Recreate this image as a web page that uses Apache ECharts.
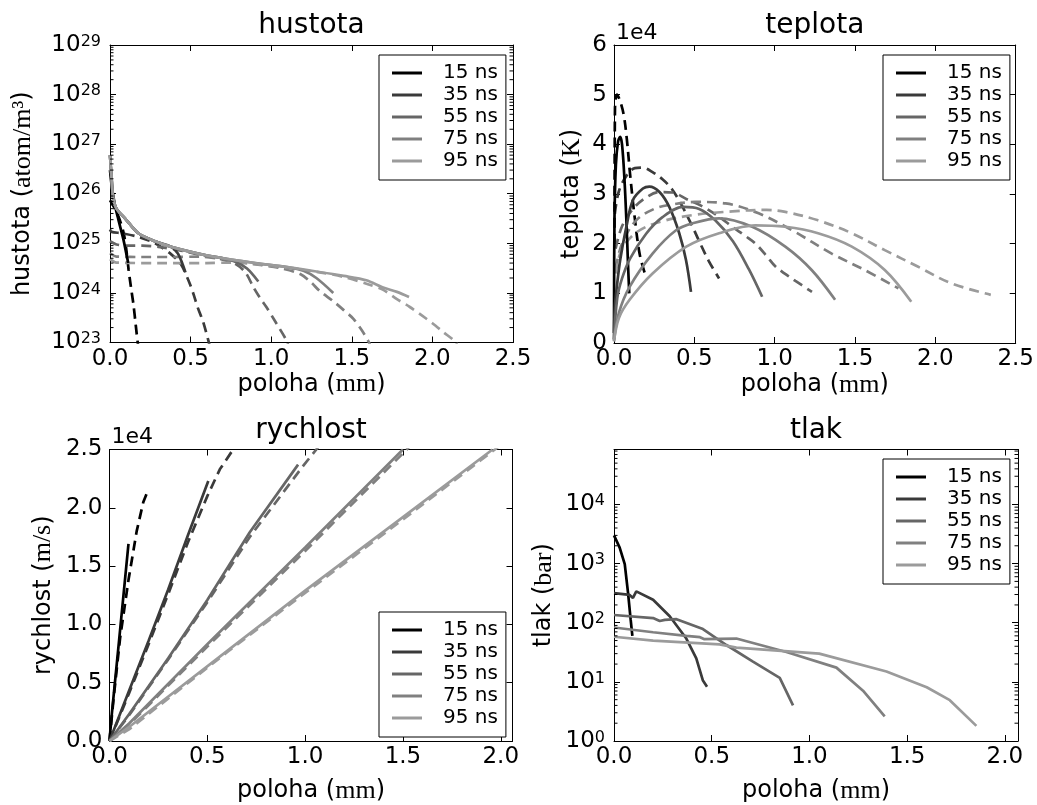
<!DOCTYPE html>
<html>
<head>
<meta charset="utf-8">
<script src="https://cdn.jsdelivr.net/npm/echarts@6/dist/echarts.min.js"></script>
<style>
  html, body { margin: 0; padding: 0; background: #fff; }
  #chart { width: 1037px; height: 805px; }
</style>
</head>
<body>
<div id="chart"></div>
<script>
// ---- labels -------------------------------------------------------------
const times = ['15 ns', '35 ns', '55 ns', '75 ns', '95 ns'];
const shades = ['#000000', '#3a3a3a', '#666666', '#808080', '#9b9b9b'];
const panelTitles = ['hustota', 'teplota', 'rychlost', 'tlak'];
const yNames = [['hustota (', 'atom/m³'], ['teplota (', 'K'], ['rychlost (', 'm/s'], ['tlak (', 'bar']];
const xName = ['poloha (', 'mm'];
const xRanges = [[0, 2.5], [0, 2.5], [0, 2.06], [0, 2.067]];   // mm
const yRanges = [[1e23, 1e29], [0, 60000], [0, 25000], [1, 85000]];
const offsetLabel = '1e4';

// ---- hustota (atom/m^3) vs poloha (mm): solid and dashed profiles ---------
const hustota15 = [[0, 3e26], [0.01, 1.5e26], [0.03, 6e25], [0.052, 3e25], [0.083, 1.2e25], [0.1, 6.5e24], [0.113, 4e24]];
const hustota35 = [[0, 6e26], [0.01, 2e26], [0.02, 8e25], [0.04, 5e25], [0.093, 3.2e25], [0.176, 1.6e25], [0.28, 1.1e25], [0.38, 8.5e24], [0.42, 6.3e24], [0.444, 4.3e24], [0.468, 2.6e24]];
const hustota55 = [[0, 6e26], [0.01, 2e26], [0.02, 8e25], [0.04, 5e25], [0.093, 3.2e25], [0.176, 1.6e25], [0.28, 1.1e25], [0.38, 8.5e24], [0.59, 5.8e24], [0.7, 5e24], [0.78, 4.2e24], [0.85, 3.1e24], [0.92, 1.7e24]];
const hustota75 = [[0, 6e26], [0.01, 2e26], [0.02, 8e25], [0.04, 5e25], [0.093, 3.2e25], [0.176, 1.6e25], [0.28, 1.1e25], [0.38, 8.5e24], [0.59, 5.8e24], [0.9, 4e24], [1.1, 3.3e24], [1.2, 2.8e24], [1.28, 2e24], [1.385, 1e24]];
const hustota95 = [[0, 6e26], [0.01, 2e26], [0.02, 8e25], [0.04, 5e25], [0.093, 3.2e25], [0.176, 1.6e25], [0.28, 1.1e25], [0.38, 8.5e24], [0.59, 5.8e24], [0.9, 4e24], [1.1, 3.3e24], [1.28, 2.7e24], [1.45, 2.2e24], [1.59, 1.8e24], [1.69, 1.3e24], [1.78, 1.05e24], [1.855, 8.3e23]];
const hustota15d = [[0, 7.4e25], [0.03, 5e25], [0.06, 3e25], [0.085, 1.6e25], [0.1, 8e24], [0.115, 3e24], [0.13, 1.3e24], [0.145, 6e23], [0.16, 2.2e23], [0.172, 1e23], [0.18, 7e22]];
const hustota35d = [[0, 1.9e25], [0.01, 1.7e25], [0.073, 1.6e25], [0.176, 1.35e25], [0.28, 1e25], [0.38, 6e24], [0.44, 3.8e24], [0.475, 2.2e24], [0.5, 1.4e24], [0.52, 9e23], [0.545, 5e23], [0.578, 2.6e23], [0.61, 1.1e23], [0.625, 7e22]];
const hustota55d = [[0, 1.1e25], [0.04, 9.5e24], [0.1, 9e24], [0.2, 9e24], [0.3, 8.5e24], [0.45, 7e24], [0.6, 5.5e24], [0.7, 4.7e24], [0.78, 3.8e24], [0.84, 2.6e24], [0.89, 1.3e24], [0.93, 8e23], [0.97, 5.2e23], [1.03, 2.5e23], [1.095, 1.1e23], [1.11, 8e22]];
const hustota75d = [[0, 6.3e24], [0.04, 5.4e24], [0.2, 5.3e24], [0.4, 5.3e24], [0.55, 5.4e24], [0.7, 4.8e24], [0.9, 3.8e24], [1.05, 3.2e24], [1.18, 2.4e24], [1.25, 1.6e24], [1.3, 1.1e24], [1.385, 6.8e23], [1.45, 4.5e23], [1.51, 3e23], [1.56, 1.8e23], [1.6, 1.1e23], [1.62, 8e22]];
const hustota95d = [[0, 4.8e24], [0.04, 4.1e24], [0.3, 4e24], [0.6, 4e24], [0.75, 4.1e24], [0.9, 3.8e24], [1.1, 3.2e24], [1.3, 2.6e24], [1.45, 2.1e24], [1.6, 1.5e24], [1.695, 1.15e24], [1.78, 7.5e23], [1.86, 5.2e23], [1.93, 3.6e23], [2.0, 2.45e23], [2.07, 1.6e23], [2.14, 1.05e23], [2.16, 8e22]];

// ---- teplota (K) ---------------------------------------------------------
const teplota15 = [[0, 2000], [0.003, 25000], [0.012, 36000], [0.025, 40500], [0.038, 41500], [0.05, 40000], [0.065, 33000], [0.078, 24000], [0.087, 16000], [0.095, 10000]];
const teplota35 = [[0, 800], [0.005, 7000], [0.02, 12000], [0.04, 17000], [0.077, 23400], [0.118, 28800], [0.18, 31100], [0.22, 31500], [0.283, 30400], [0.344, 27400], [0.406, 22100], [0.448, 16700], [0.479, 10300]];
const teplota55 = [[0, 600], [0.02, 9000], [0.05, 13000], [0.1, 17000], [0.2, 22000], [0.3, 25300], [0.43, 27400], [0.53, 27000], [0.63, 24700], [0.74, 20500], [0.84, 14800], [0.922, 9300]];
const teplota75 = [[0, 400], [0.03, 6000], [0.097, 11300], [0.24, 18000], [0.386, 22700], [0.49, 24100], [0.654, 25100], [0.86, 23400], [1.066, 19400], [1.23, 14700], [1.376, 8700]];
const teplota95 = [[0, 300], [0.03, 5000], [0.097, 8700], [0.24, 14000], [0.45, 19400], [0.654, 22100], [0.88, 23700], [1.066, 23400], [1.27, 22100], [1.48, 19400], [1.685, 14700], [1.85, 8300]];
const teplota15d = [[0.003, 20000], [0.006, 47000], [0.018, 50000], [0.035, 49000], [0.06, 46000], [0.08, 41000], [0.1, 34000], [0.128, 25500], [0.159, 18000], [0.19, 14200]];
const teplota35d = [[0.005, 26000], [0.03, 30500], [0.08, 33800], [0.13, 35200], [0.18, 35300], [0.24, 34400], [0.3, 33000], [0.36, 31000], [0.42, 27800], [0.48, 24000], [0.53, 20500], [0.59, 16500], [0.654, 13000]];
const teplota55d = [[0.01, 19000], [0.05, 23500], [0.118, 27000], [0.2, 29300], [0.283, 30400], [0.365, 30300], [0.45, 29000], [0.55, 27500], [0.65, 25500], [0.736, 23400], [0.82, 21500], [0.881, 20000], [0.95, 17500], [1.005, 15400], [1.07, 13800], [1.129, 12500], [1.232, 10300]];
const teplota75d = [[0.01, 15000], [0.05, 20000], [0.138, 24700], [0.25, 27000], [0.345, 27800], [0.51, 28400], [0.695, 28100], [0.9, 26100], [1.108, 22700], [1.355, 18000], [1.56, 14700], [1.77, 11000]];
const teplota95d = [[0.01, 14000], [0.05, 19000], [0.15, 22500], [0.3, 24500], [0.5, 25800], [0.736, 26500], [0.95, 26800], [1.066, 26400], [1.27, 24700], [1.48, 22100], [1.685, 18700], [1.89, 15400], [2.1, 12000], [2.345, 9700]];

// ---- rychlost (m/s) ------------------------------------------------------
const rychlost15 = [[0, 0], [0.01, 2000], [0.05, 8800], [0.097, 16900]];
const rychlost35 = [[0, 0], [0.1, 4300], [0.2, 8600], [0.3, 13000], [0.4, 17600], [0.505, 22300]];
const rychlost55 = [[0, 0], [0.1, 2300], [0.3, 7100], [0.5, 12100], [0.717, 17900], [0.964, 23700]];
const rychlost75 = [[0, 0], [0.1, 1500], [0.5, 8300], [1.0, 16600], [1.5, 25000]];
const rychlost95 = [[0, 0], [0.1, 1200], [0.615, 7900], [1.0, 12900], [1.5, 19200], [1.958, 25000]];
const rychlost15d = [[0, 0], [0.02, 3500], [0.054, 8800], [0.097, 13800], [0.139, 18000], [0.173, 20500], [0.199, 21600]];
const rychlost35d = [[0, 0], [0.1, 4100], [0.2, 8300], [0.3, 12600], [0.4, 17000], [0.5, 21000], [0.564, 23300], [0.632, 25000], [0.66, 25700]];
const rychlost55d = [[0, 0], [0.1, 2200], [0.3, 7000], [0.5, 11900], [0.717, 17500], [0.99, 23600], [1.057, 25000], [1.08, 25500]];
const rychlost75d = [[0, 0], [0.1, 1400], [0.5, 8100], [1.0, 16300], [1.52, 25000], [1.55, 25600]];
const rychlost95d = [[0, 0], [0.1, 1000], [0.615, 7800], [1.0, 12700], [1.5, 19000], [1.97, 25000], [2.0, 25400]];

// ---- tlak (bar) ----------------------------------------------------------
const tlak15 = [[0, 3000], [0.009, 3100], [0.029, 1860], [0.055, 980], [0.072, 316], [0.085, 115], [0.094, 60]];
const tlak35 = [[0, 316], [0.08, 295], [0.097, 263], [0.114, 339], [0.2, 245], [0.285, 129], [0.37, 54], [0.421, 25], [0.455, 10.5], [0.476, 8.3]];
const tlak55 = [[0, 135], [0.2, 120], [0.234, 107], [0.26, 112], [0.32, 115], [0.455, 78], [0.575, 42], [0.711, 22], [0.848, 11.7], [0.916, 4]];
const tlak75 = [[0, 83], [0.2, 69], [0.37, 60], [0.44, 57], [0.46, 53], [0.626, 54], [0.882, 32], [1.138, 17.4], [1.274, 7.1], [1.385, 2.6]];
const tlak95 = [[0, 58], [0.2, 50], [0.54, 43], [0.626, 38], [1.05, 30], [1.394, 15], [1.6, 8.1], [1.718, 4.9], [1.854, 1.8]];

const solidSets = [
  [hustota15, hustota35, hustota55, hustota75, hustota95],
  [teplota15, teplota35, teplota55, teplota75, teplota95],
  [rychlost15, rychlost35, rychlost55, rychlost75, rychlost95],
  [tlak15, tlak35, tlak55, tlak75, tlak95]
];
const dashedSets = [
  [hustota15d, hustota35d, hustota55d, hustota75d, hustota95d],
  [teplota15d, teplota35d, teplota55d, teplota75d, teplota95d],
  [rychlost15d, rychlost35d, rychlost55d, rychlost75d, rychlost95d],
  []
];

// ---- layout --------------------------------------------------------------
const FONT = 'DejaVu Sans';
const SERIF = 'Liberation Serif';
const TICK_SIZE = 23;
const NAME_SIZE = 24;
const grids = [
  { left: 110, top: 45, width: 403, height: 297.5 },
  { left: 614, top: 45, width: 404, height: 298 },
  { left: 109.5, top: 449.5, width: 403, height: 299 },
  { left: 614, top: 449.5, width: 404, height: 299 }
];
const legendPos = [
  { left: 379, top: 55 },
  { left: 883, top: 55 },
  { left: 379, top: 612 },
  { left: 883, top: 459 }
];
const isLog = [true, false, false, true];
const smoothness = [0.3, 0.35, 0, 0];
const yNameGap = [74, 29, 53, 57];
const xNameGap = [28, 28, 37, 37];

const nameRich = {
  a: { fontFamily: FONT, fontSize: NAME_SIZE, color: '#000' },
  b: { fontFamily: SERIF, fontSize: NAME_SIZE + 2, color: '#000' }
};
const supRich = {
  b: { fontFamily: FONT, fontSize: TICK_SIZE, color: '#000', lineHeight: TICK_SIZE, padding: [5, 0, 5, 0] },
  s: { fontFamily: FONT, fontSize: 16, color: '#000', lineHeight: 16, verticalAlign: 'top' }
};
const tickStyle = (len) => ({ show: true, inside: true, length: len, lineStyle: { color: '#000', width: 1 } });
const lineAxis = { show: true, onZero: false, lineStyle: { color: '#000', width: 1 } };

const xAxes = [], yAxes = [], series = [], legends = [], graphics = [];

grids.forEach((g, i) => {
  const [x0, x1] = xRanges[i];
  const [y0, y1] = yRanges[i];
  const xBase = {
    type: 'value', gridIndex: i, min: x0, max: x1, interval: 0.5,
    axisLine: lineAxis, axisTick: tickStyle(6), splitLine: { show: false }
  };
  xAxes.push(Object.assign({}, xBase, {
    position: 'bottom',
    axisLabel: {
      margin: 5, fontFamily: FONT, fontSize: TICK_SIZE, color: '#000',
      showMaxLabel: x1 === 2.5,
      formatter: (v) => v.toFixed(1)
    },
    name: `{a|${xName[0]}}{b|${xName[1]}}{a|)}`,
    nameLocation: 'middle', nameGap: xNameGap[i],
    nameTextStyle: { rich: nameRich }
  }));
  xAxes.push(Object.assign({}, xBase, {
    position: 'top', axisLabel: { show: false },
    name: panelTitles[i], nameLocation: 'middle', nameGap: 5,
    nameTextStyle: { fontFamily: FONT, fontSize: 28, color: '#000', verticalAlign: 'bottom' }
  }));

  const yBase = {
    gridIndex: i, min: y0, max: y1,
    axisLine: lineAxis, axisTick: tickStyle(6), splitLine: { show: false }
  };
  if (isLog[i]) {
    yBase.type = 'log';
    yBase.logBase = 10;
  } else {
    yBase.type = 'value';
    yBase.interval = i === 1 ? 10000 : 5000;
  }
  const yLabel = isLog[i]
    ? { margin: 9, formatter: (v) => `{b|10}{s|${Math.round(Math.log10(v))}}`, rich: supRich, showMaxLabel: i === 0 }
    : { margin: 7, fontFamily: FONT, fontSize: TICK_SIZE, color: '#000',
        formatter: (v) => i === 1 ? String(Math.round(v / 10000)) : (v / 10000).toFixed(1) };
  yAxes.push(Object.assign({}, yBase, {
    position: 'left', axisLabel: yLabel,
    name: `{a|${yNames[i][0]}}{b|${yNames[i][1]}}{a|)}`,
    nameLocation: 'middle', nameGap: yNameGap[i], nameTextStyle: { rich: nameRich }
  }));
  yAxes.push(Object.assign({}, yBase, { position: 'right', axisLabel: { show: false } }));

  // curves
  solidSets[i].forEach((data, k) => {
    series.push({
      type: 'line', name: times[k], data, xAxisIndex: 2 * i, yAxisIndex: 2 * i,
      symbol: 'none', showSymbol: false, clip: true, silent: true, z: 3,
      smooth: smoothness[i],
      lineStyle: { color: shades[k], width: 2.7, type: 'solid' },
      itemStyle: { color: shades[k] }
    });
  });
  dashedSets[i].forEach((data, k) => {
    series.push({
      type: 'line', name: times[k] + ' (dashed)', data, xAxisIndex: 2 * i, yAxisIndex: 2 * i,
      symbol: 'none', showSymbol: false, clip: true, silent: true, z: 2,
      smooth: smoothness[i],
      lineStyle: { color: shades[k], width: 2.7, type: [10, 6], cap: 'butt' },
      itemStyle: { color: shades[k] }
    });
  });

  // minor ticks of the logarithmic axes, on both vertical spines
  if (isLog[i]) {
    const minor = [];
    for (let e = Math.floor(Math.log10(y0)); e <= Math.ceil(Math.log10(y1)); e++) {
      for (let m = 2; m <= 9; m++) {
        const v = m * Math.pow(10, e);
        if (v > y0 && v < y1) minor.push([x0, v]);
      }
    }
    series.push({
      type: 'custom', xAxisIndex: 2 * i, yAxisIndex: 2 * i, silent: true, z: 4,
      data: minor,
      renderItem: (params, api) => {
        const y = api.coord([api.value(0), api.value(1)])[1];
        const cs = params.coordSys;
        return {
          type: 'group', children: [
            { type: 'line', shape: { x1: cs.x, y1: y, x2: cs.x + 3.5, y2: y }, style: { stroke: '#000', lineWidth: 1 } },
            { type: 'line', shape: { x1: cs.x + cs.width - 3.5, y1: y, x2: cs.x + cs.width, y2: y }, style: { stroke: '#000', lineWidth: 1 } }
          ]
        };
      }
    });
  }

  legends.push({
    show: true, orient: 'vertical', left: legendPos[i].left, top: legendPos[i].top,
    data: times, selectedMode: false, icon: 'rect',
    itemWidth: 30, itemHeight: 3, itemGap: 0,
    padding: [7, 8, 8, 13],
    borderColor: '#000', borderWidth: 1, borderRadius: 0, backgroundColor: '#fff',
    textStyle: { fontFamily: FONT, fontSize: 20, lineHeight: 22, color: '#000', padding: [0, 0, 0, 16] }
  });
});

// exponent offset printed above the linear axes
graphics.push({ type: 'text', left: grids[1].left + 2, top: grids[1].top - 23,
  style: { text: offsetLabel, font: `22px "${FONT}"`, fill: '#000' } });
graphics.push({ type: 'text', left: grids[2].left + 2, top: grids[2].top - 23,
  style: { text: offsetLabel, font: `22px "${FONT}"`, fill: '#000' } });

const chart = echarts.init(document.getElementById('chart'), null, { renderer: 'canvas' });
chart.setOption({
  animation: false,
  backgroundColor: '#fff',
  grid: grids.map(g => Object.assign({ containLabel: false }, g)),
  xAxis: xAxes,
  yAxis: yAxes,
  legend: legends,
  series,
  graphic: graphics
});
</script>
</body>
</html>
